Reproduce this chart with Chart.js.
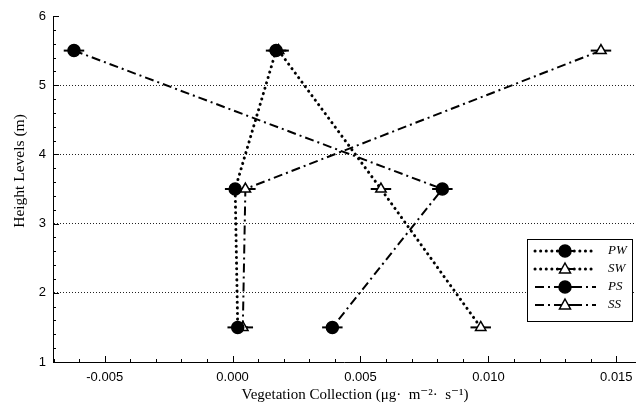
<!DOCTYPE html>
<html>
<head>
<meta charset="utf-8">
<script src="https://cdn.jsdelivr.net/npm/chart.js@4/dist/chart.umd.min.js"></script>
<style>
html,body{margin:0;padding:0;background:#fff;}
canvas{display:block;}
</style>
</head>
<body>
<canvas id="c" width="643" height="406"></canvas>
<script>
// ---- data ----
const heights = [5.5, 3.5, 1.5];
const seriesNames = ['PW', 'SW', 'PS', 'SS'];
const pwValues = [0.0017, 0.0001, 0.0002];
const swValues = [0.0018, 0.0058, 0.0097];
const psValues = [-0.0062, 0.0082, 0.0039];
const ssValues = [0.0144, 0.0005, 0.0004];
const pwErrors = [0.0004, 0.0004, 0.0004];
const swErrors = [0.0004, 0.0004, 0.0004];
const psErrors = [0.0004, 0.0004, 0.0004];
const ssErrors = [0.0004, 0.0004, 0.0004];
const xTickValues = [-0.005, 0.000, 0.005, 0.010, 0.015];
const yTickValues = [1, 2, 3, 4, 5, 6];
const xTitle = 'Vegetation Collection (μg·  m⁻²·  s⁻¹)';
const yTitle = 'Height Levels (m)';

const DOT = [0.1, 5.5];
const DASHDOT = [9, 4, 2, 4];

function pts(vals, errs) {
  return heights.map((h, i) => ({ x: vals[i], y: h, err: errs[i] }));
}

function mk(label, vals, errs, dash, cap, width, pstyle, fill) {
  return {
    label: label,
    data: pts(vals, errs),
    showLine: true,
    borderColor: '#000',
    borderWidth: width,
    borderDash: dash,
    borderCapStyle: cap,
    pointStyle: pstyle,
    pointRadius: 6,
    pointBackgroundColor: fill,
    pointBorderColor: '#000',
    pointBorderWidth: 1.5,
    fill: false,
    tension: 0
  };
}

const datasets = [
  mk(seriesNames[0], pwValues, pwErrors, DOT, 'round', 3, 'circle', '#000'),
  mk(seriesNames[1], swValues, swErrors, DOT, 'round', 3, 'triangle', '#fff'),
  mk(seriesNames[2], psValues, psErrors, DASHDOT, 'butt', 2, 'circle', '#000'),
  mk(seriesNames[3], ssValues, ssErrors, DASHDOT, 'butt', 2, 'triangle', '#fff')
];

const errorBars = {
  id: 'errorBars',
  beforeDatasetsDraw(chart) {
    const ctx = chart.ctx, xs = chart.scales.x, ys = chart.scales.y;
    ctx.save();
    ctx.strokeStyle = '#000';
    ctx.lineWidth = 2;
    ctx.setLineDash([]);
    chart.data.datasets.forEach(ds => {
      ds.data.forEach(p => {
        const y = ys.getPixelForValue(p.y);
        ctx.beginPath();
        ctx.moveTo(xs.getPixelForValue(p.x - p.err), y);
        ctx.lineTo(xs.getPixelForValue(p.x + p.err), y);
        ctx.stroke();
      });
    });
    ctx.restore();
  }
};

const innerTicks = {
  id: 'innerTicks',
  afterDraw(chart) {
    const ctx = chart.ctx, xs = chart.scales.x, ys = chart.scales.y;
    const a = chart.chartArea;
    ctx.save();
    ctx.strokeStyle = '#000';
    ctx.lineWidth = 1;
    ctx.setLineDash([]);
    for (let k = -7; k <= 15; k++) {
      const px = Math.round(xs.getPixelForValue(k / 1000)) + 0.5;
      if (px < a.left + 1 || px > a.right) continue;
      const len = (k % 5 === 0) ? 6 : 3;
      ctx.beginPath();
      ctx.moveTo(px, a.bottom);
      ctx.lineTo(px, a.bottom - len);
      ctx.stroke();
    }
    for (let k = 5; k <= 30; k++) {
      const py = Math.round(ys.getPixelForValue(k / 5)) + 0.5;
      const len = (k % 5 === 0) ? 6 : 3;
      ctx.beginPath();
      ctx.moveTo(a.left, py);
      ctx.lineTo(a.left + len, py);
      ctx.stroke();
    }
    ctx.restore();
  }
};

const axisTitles = {
  id: 'axisTitles',
  afterDraw(chart) {
    const ctx = chart.ctx;
    ctx.save();
    ctx.fillStyle = '#000';
    ctx.font = '15px "Liberation Serif", "DejaVu Serif", serif';
    ctx.textAlign = 'center';
    ctx.textBaseline = 'middle';
    ctx.fillText(xTitle, 355, 395);
    ctx.translate(20, 171);
    ctx.rotate(-Math.PI / 2);
    ctx.font = '15.5px "Liberation Serif", "DejaVu Serif", serif';
    ctx.fillText(yTitle, 0, 0);
    ctx.restore();
  }
};

const boxLegend = {
  id: 'boxLegend',
  afterDraw(chart) {
    const ctx = chart.ctx;
    const L = 527, T = 239, R = 632, B = 321;
    ctx.save();
    ctx.fillStyle = '#fff';
    ctx.fillRect(L, T, R - L, B - T);
    ctx.strokeStyle = '#000';
    ctx.lineWidth = 1;
    ctx.setLineDash([]);
    ctx.strokeRect(L + 0.5, T + 0.5, R - L, B - T);
    chart.data.datasets.forEach((ds, i) => {
      const y = T + 12 + i * 18;
      ctx.save();
      ctx.strokeStyle = '#000';
      ctx.lineWidth = ds.borderWidth;
      ctx.lineCap = ds.borderCapStyle;
      ctx.setLineDash(ds.borderDash);
      ctx.beginPath();
      ctx.moveTo(535, y);
      ctx.lineTo(596, y);
      ctx.stroke();
      ctx.restore();
      ctx.save();
      ctx.setLineDash([]);
      ctx.lineWidth = 2;
      ctx.beginPath();
      ctx.moveTo(556, y); ctx.lineTo(574, y); ctx.stroke();
      ctx.fillStyle = ds.pointBackgroundColor;
      ctx.strokeStyle = '#000';
      ctx.lineWidth = 1.5;
      ctx.beginPath();
      if (ds.pointStyle === 'circle') {
        ctx.arc(565, y, 6, 0, Math.PI * 2);
      } else {
        ctx.moveTo(565, y - 6);
        ctx.lineTo(565 + 5.5, y + 4);
        ctx.lineTo(565 - 5.5, y + 4);
        ctx.closePath();
      }
      ctx.fill();
      ctx.stroke();
      ctx.restore();
      ctx.fillStyle = '#000';
      ctx.font = 'italic 13px "Liberation Serif"';
      ctx.textBaseline = 'middle';
      ctx.textAlign = 'left';
      ctx.fillText(ds.label, 608, y);
    });
    ctx.restore();
  }
};

new Chart(document.getElementById('c'), {
  type: 'scatter',
  data: { datasets: datasets },
  plugins: [errorBars, innerTicks, axisTitles, boxLegend],
  options: {
    responsive: false,
    animation: false,
    devicePixelRatio: 1,
    layout: { padding: { top: 16, right: 0, left: 0, bottom: 0 } },
    plugins: { legend: { display: false }, tooltip: { enabled: false } },
    scales: {
      x: {
        type: 'linear',
        min: -0.00702,
        max: 0.01575,
        afterBuildTicks: s => { s.ticks = xTickValues.map(v => ({ value: v })); },
        afterFit: s => { s.height = 44; },
        grid: { display: false, drawTicks: false },
        border: { display: true, color: '#000', width: 1 },
        ticks: {
          color: '#000',
          padding: 8,
          maxRotation: 0,
          font: { family: '"Liberation Sans", Arial', size: 13 },
          callback: v => v.toFixed(3)
        },
        title: { display: false }
      },
      y: {
        type: 'linear',
        min: 1,
        max: 6,
        afterBuildTicks: s => { s.ticks = yTickValues.map(v => ({ value: v })); },
        afterFit: s => { s.width = 53; },
        grid: {
          display: true,
          drawTicks: false,
          color: c => (c.tick && (c.tick.value === 1 || c.tick.value === 6)) ? 'rgba(0,0,0,0)' : '#222',
          lineWidth: 1
        },
        border: { display: true, color: '#000', width: 1, dash: [1, 2] },
        ticks: {
          color: '#000',
          padding: 7,
          font: { family: '"Liberation Sans", Arial', size: 13 },
          callback: v => String(v)
        },
        title: { display: false }
      }
    }
  }
});
</script>
</body>
</html>
